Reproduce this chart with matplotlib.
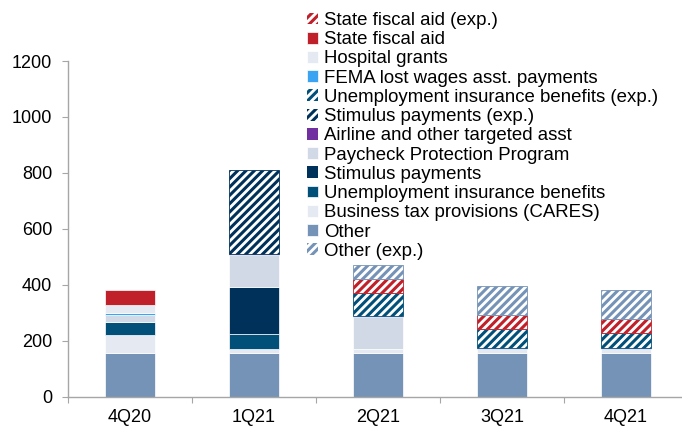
import matplotlib
matplotlib.use("Agg")
import matplotlib.pyplot as plt
import numpy as np

plt.rcParams['font.family'] = ['Liberation Sans', 'DejaVu Sans']
plt.rcParams['hatch.linewidth'] = 2.2

categories = ["4Q20", "1Q21", "2Q21", "3Q21", "4Q21"]

other          = [155, 155, 155, 155, 155]
business_tax   = [64, 15, 15, 15, 15]
ui_benefits    = [48, 53, 0, 0, 0]
stimulus       = [0, 167, 0, 0, 0]
ppp            = [24, 115, 115, 0, 0]
airline        = [0, 4, 3, 3, 3]
stimulus_exp   = [0, 302, 0, 0, 0]
ui_exp         = [0, 0, 81, 68, 55]
fema           = [7, 0, 0, 0, 0]
hospital       = [30, 0, 0, 0, 0]
state_aid      = [54, 0, 0, 0, 0]
state_aid_exp  = [0, 0, 51, 50, 50]
other_exp      = [0, 0, 52, 103, 102]

yticks = [0, 200, 400, 600, 800, 1000, 1200]

# (label, values, colour, hatched) in stacking order bottom->top
series = [
    ("Other", other, "#7593b6", False),
    ("Business tax provisions (CARES)", business_tax, "#e4e9f2", False),
    ("Unemployment insurance benefits", ui_benefits, "#00507a", False),
    ("Stimulus payments", stimulus, "#00315a", False),
    ("Paycheck Protection Program", ppp, "#d2d9e6", False),
    ("Airline and other targeted asst", airline, "#7030a0", False),
    ("Stimulus payments (exp.)", stimulus_exp, "#00315a", True),
    ("Unemployment insurance benefits (exp.)", ui_exp, "#00507a", True),
    ("FEMA lost wages asst. payments", fema, "#3aa3f2", False),
    ("Hospital grants", hospital, "#e4e9f2", False),
    ("State fiscal aid", state_aid, "#c0202a", False),
    ("State fiscal aid (exp.)", state_aid_exp, "#c0202a", True),
    ("Other (exp.)", other_exp, "#7593b6", True),
]

legend_order = [
    "State fiscal aid (exp.)", "State fiscal aid", "Hospital grants",
    "FEMA lost wages asst. payments", "Unemployment insurance benefits (exp.)",
    "Stimulus payments (exp.)", "Airline and other targeted asst",
    "Paycheck Protection Program", "Stimulus payments",
    "Unemployment insurance benefits", "Business tax provisions (CARES)",
    "Other", "Other (exp.)",
]

W, H = 682, 429
fig = plt.figure(figsize=(W / 100, H / 100), dpi=100)
ax = fig.add_axes([68 / W, 1 - 396.5 / H, 620 / W, (396.5 - 61) / H])

x = np.arange(len(categories))
bottom = np.zeros(len(categories))
handles = {}
for label, vals, col, hatched in series:
    vals = np.array(vals, dtype=float)
    if hatched:
        bars = ax.bar(x, vals, width=0.41, bottom=bottom, facecolor="white",
                      edgecolor=col, hatch="////",
                      linewidth=[0.6 if v > 0 else 0 for v in vals], label=label)
    else:
        bars = ax.bar(x, vals, width=0.41, bottom=bottom, color=col,
                      edgecolor="white",
                      linewidth=[0.5 if v > 0 else 0 for v in vals], label=label)
    handles[label] = bars
    bottom += vals

ax.set_xlim(-0.5, len(categories) - 0.5)
ax.set_ylim(0, 1200)
ax.set_yticks(yticks)
ax.set_yticklabels([str(t) for t in yticks])
ax.set_xticks(x)
ax.set_xticklabels(categories)
ax.set_xticks(np.arange(-0.5, len(categories), 1.0), minor=True)

for s in ["top", "right"]:
    ax.spines[s].set_visible(False)
for s in ["left", "bottom"]:
    ax.spines[s].set_color("#a6a6a6")
    ax.spines[s].set_linewidth(1.0)

ax.tick_params(axis="y", length=4.3, width=0.8, color="#a6a6a6", pad=7,
               labelsize=13, labelcolor="black")
ax.tick_params(axis="x", which="major", length=0, pad=9, labelsize=13)
ax.tick_params(axis="x", which="minor", length=4, width=0.8, color="#a6a6a6")

leg = fig.legend([handles[l] for l in legend_order], legend_order,
                 loc="upper left", bbox_to_anchor=(307 / W, 1 - 12 / H),
                 frameon=False, fontsize=13.4, handlelength=0.6,
                 handleheight=0.6, handletextpad=0.3, labelspacing=0.12,
                 borderpad=0, borderaxespad=0)

fig.savefig("out.png", dpi=100)
